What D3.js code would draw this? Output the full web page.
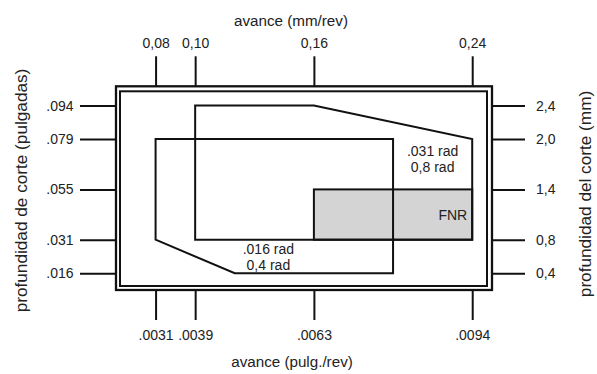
<!DOCTYPE html>
<html>
<head>
<meta charset="utf-8">
<script src="https://cdn.jsdelivr.net/npm/d3@7"></script>
<style>
  body { margin: 0; background: #fff; }
  svg text { font-family: "Liberation Sans", Arial, Helvetica, sans-serif; fill: #222; }
  .tick line { stroke: #111; stroke-width: 2; }
</style>
</head>
<body>
<svg id="chart" width="597" height="374"></svg>
<script>
// feed ticks (mm/rev) and their inch equivalents
var feedMm = [0.08, 0.10, 0.16, 0.24];
var feedIn = [".0031", ".0039", ".0063", ".0094"];
// depth of cut ticks (mm) and inch equivalents
var depthMm = [0.4, 0.8, 1.4, 2.0, 2.4];
var depthIn = [".016", ".031", ".055", ".079", ".094"];

// regions [feed mm/rev, depth mm]
var regionSmall = [[0.08, 2.0], [0.20, 2.0], [0.20, 0.4], [0.12, 0.4], [0.08, 0.8]];
var regionLarge = [[0.10, 2.4], [0.16, 2.4], [0.24, 2.0], [0.24, 0.8], [0.10, 0.8]];
var fnrBox = [[0.16, 1.4], [0.24, 0.8]];

var svg = d3.select('#chart');

var frame = { left: 116, right: 492, top: 86.3, bottom: 290 };
var tickFont = 14, titleFont = 15.2, sideFont = 17.2;

var x = d3.scaleLinear().domain([0.06, 0.25]).range([frame.left, frame.right]);
var y = d3.scaleLinear().domain([0.2, 2.63]).range([frame.bottom, frame.top]);

var comma = function (f) { return function (d) { return d3.format(f)(d).replace('.', ','); }; };

function styleAxis(g) {
  g.attr('font-size', tickFont).attr('font-family', null);
  g.selectAll('.domain').remove();
}

// axes
svg.append('g')
  .attr('transform', 'translate(0,' + frame.top + ')')
  .call(d3.axisTop(x).tickValues(feedMm).tickSize(30).tickPadding(8).tickFormat(comma('.2f')))
  .call(styleAxis);

svg.append('g')
  .attr('transform', 'translate(0,' + frame.bottom + ')')
  .call(d3.axisBottom(x).tickValues(feedMm).tickSize(30).tickPadding(10.5)
    .tickFormat(function (d, i) { return feedIn[i]; }))
  .call(styleAxis);

svg.append('g')
  .attr('transform', 'translate(' + frame.left + ',0)')
  .call(d3.axisLeft(y).tickValues(depthMm).tickSize(36).tickPadding(6.5)
    .tickFormat(function (d, i) { return depthIn[i]; }))
  .call(styleAxis);

svg.append('g')
  .attr('transform', 'translate(' + frame.right + ',0)')
  .call(d3.axisRight(y).tickValues(depthMm).tickSize(33).tickPadding(11).tickFormat(comma('.1f')))
  .call(styleAxis);

// double frame
svg.append('rect')
  .attr('x', frame.left).attr('y', frame.top)
  .attr('width', frame.right - frame.left).attr('height', frame.bottom - frame.top)
  .attr('fill', 'white').attr('stroke', '#111').attr('stroke-width', 2.3);

svg.append('rect')
  .attr('x', frame.left + 4).attr('y', frame.top + 5)
  .attr('width', frame.right - frame.left - 9).attr('height', frame.bottom - frame.top - 9)
  .attr('fill', 'none').attr('stroke', '#111').attr('stroke-width', 2);

// FNR box
svg.append('rect')
  .attr('x', x(fnrBox[0][0])).attr('y', y(fnrBox[0][1]))
  .attr('width', x(fnrBox[1][0]) - x(fnrBox[0][0]))
  .attr('height', y(fnrBox[1][1]) - y(fnrBox[0][1]))
  .attr('fill', '#d4d4d4').attr('stroke', '#111').attr('stroke-width', 2);

var line = d3.line().x(function (d) { return x(d[0]); }).y(function (d) { return y(d[1]); }).curve(d3.curveLinearClosed);

svg.selectAll('path.region')
  .data([regionSmall, regionLarge])
  .join('path')
  .attr('class', 'region')
  .attr('d', line)
  .attr('fill', 'none')
  .attr('stroke', '#111')
  .attr('stroke-width', 2)
  .attr('stroke-linejoin', 'miter');

// notes
function note(txt, px, py, anchor) {
  svg.append('text').attr('font-size', tickFont).attr('text-anchor', anchor || 'middle')
    .attr('x', px).attr('y', py).text(txt);
}
note('.031 rad', x(0.22), y(2.0) + 17);
note('0,8 rad', x(0.22), y(2.0) + 33);
note('.016 rad', x(0.137), y(0.8) + 14);
note('0,4 rad', x(0.137), y(0.8) + 30.5);
note('FNR', x(0.24) - 5, y(1.1) + 5, 'end');

// titles
function title(txt, tr, size) {
  svg.append('text').attr('font-size', size).attr('text-anchor', 'middle')
    .attr('transform', tr).text(txt);
}
title('avance (mm/rev)', 'translate(291,26)', titleFont);
title('avance (pulg./rev)', 'translate(292,367)', titleFont);
title('profundidad de corte (pulgadas)', 'translate(27,190.5) rotate(-90)', sideFont);
title('profundidad del corte (mm)', 'translate(590.5,194) rotate(-90)', sideFont);
</script>
</body>
</html>
